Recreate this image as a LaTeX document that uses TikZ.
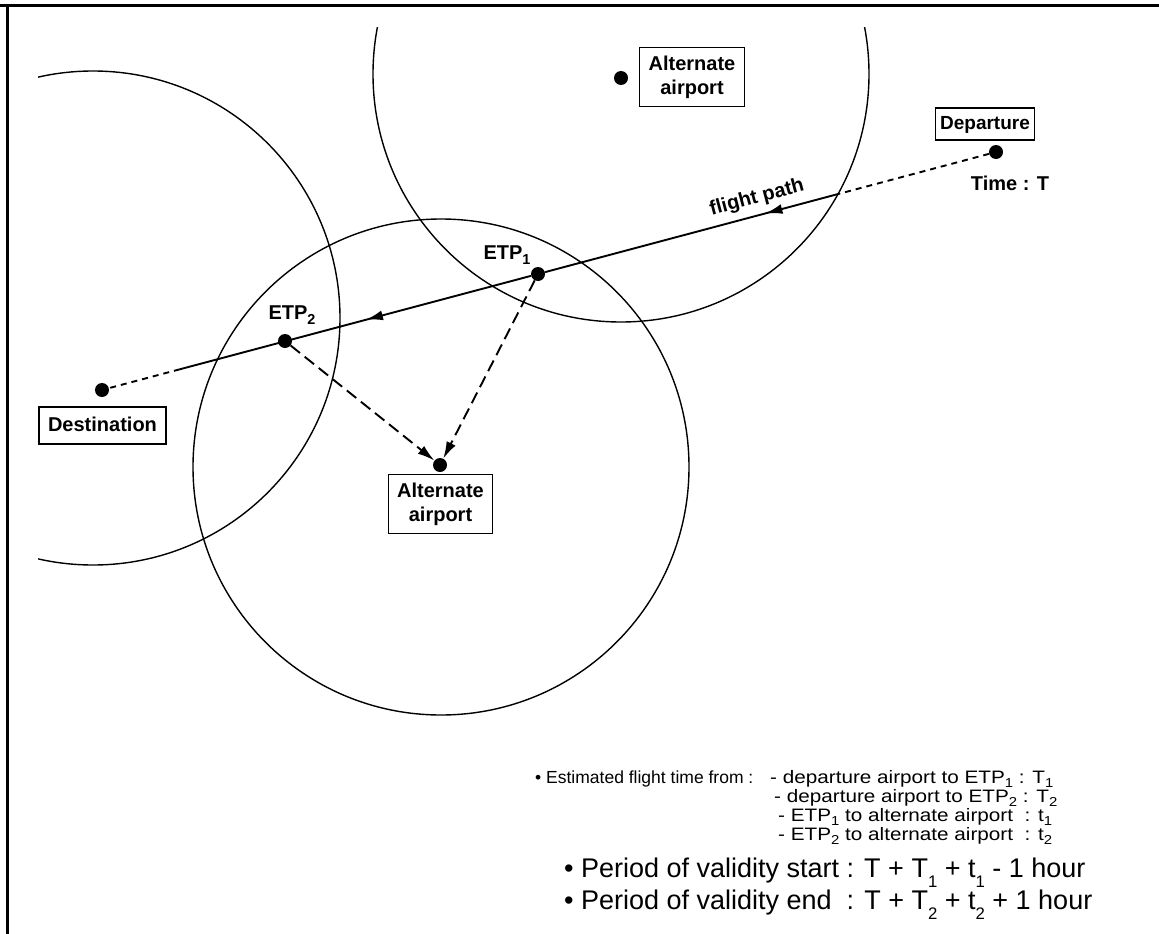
\documentclass[tikz,border=0pt]{standalone}
\usepackage{fontspec}
\setmainfont{Liberation Sans}
\usetikzlibrary{arrows.meta,decorations.markings,calc}
\newcommand{\lsub}[1]{\raisebox{-0.45ex}{\scalebox{0.72}{#1}}}
\newcommand{\bsub}[1]{\raisebox{-0.75ex}{\scalebox{0.62}{#1}}}
\newcommand{\wide}[1]{\scalebox{1.15}[1]{#1}}
\begin{document}
\begin{tikzpicture}[x=1pt,y=-1pt,
 dot/.style={circle,fill=black,inner sep=0pt,minimum size=14pt},
 lbl/.style={font=\fontsize{20}{24}\selectfont\bfseries, align=center, inner sep=0pt},
 box/.style={lbl,draw,line width=1.2pt,inner xsep=9pt,inner ysep=8pt},
 ring/.style={line width=1.4pt},
 fpath/.style={line width=1.9pt},
 tip/.style={-{Latex[length=17pt,width=10pt]}},
 midtip/.style={postaction={decorate},decoration={markings,mark=at position #1 with {\arrow{Latex[length=17pt,width=10pt]}}}},
 small/.style={font=\fontsize{18}{19}\selectfont, anchor=base west, inner sep=0pt},
 est/.style={font=\fontsize{17.5}{19}\selectfont, anchor=base west, inner sep=0pt},
 big/.style={font=\fontsize{27}{32}\selectfont, anchor=base west, inner sep=0pt}]
\useasboundingbox (0,0) rectangle (1159,934);
% frame
\draw[line width=3pt] (0,6) -- (1159,6);
\draw[line width=3pt] (7,4.5) -- (7,934);
% circles
\begin{scope}
\clip (38,28) rectangle (1159,934);
\draw[ring] (621,74) circle[radius=248];
\draw[ring] (93,318) circle[radius=247];
\draw[ring] (441,467) circle[radius=248];
\end{scope}
% dots
\node[dot] (altA) at (621,78) {};
\node[dot] (dep) at (996,152) {};
\node[dot] (etp1) at (538,274) {};
\node[dot] (etp2) at (285,341) {};
\node[dot] (dest) at (102,390) {};
\node[dot] (altB) at (440,465) {};
\coordinate (c1) at ($(dep)!0.18!(dest)$);
\coordinate (c2) at ($(dep)!0.913!(dest)$);
% labels
\node[box] (altAbox) at (692,77) {Alternate\\airport};
\node[box, font=\fontsize{19}{23}\selectfont\bfseries, text height=14pt, text depth=4pt, inner xsep=5pt, inner ysep=7pt] (depbox) at (985,124) {Departure};
\node[lbl] (time) at (1010,183) {Time : T};
\node[lbl] (etp1l) at (507,255) {ETP\lsub{1}};
\node[lbl] (etp2l) at (292,315) {ETP\lsub{2}};
\node[box, text height=15pt, text depth=4pt, inner ysep=9pt] (destbox) at (102.5,425.5) {Destination};
\node[box] (altBbox) at (440.5,504) {Alternate\\airport};
\node[lbl, rotate=14.9] (fpl) at (757,198) {flight path};
% flight path
\draw[fpath, dash pattern=on 6pt off 5pt] (dep) -- (c1);
\draw[fpath, midtip=0.24] (c1) -- (etp1);
\draw[fpath, midtip=0.47] (etp1) -- (c2);
\draw[fpath, dash pattern=on 6pt off 5pt] (c2) -- (dest);
% diversions
\draw[fpath, dash pattern=on 12pt off 6pt, tip] (etp1) -- (altB);
\draw[fpath, dash pattern=on 12pt off 6pt, tip] (etp2) -- (altB);
% text block
\node[est] (esttxt) at (535,783) {• Estimated flight time from :};
\node[small] (l1) at (770,783) {\wide{- departure airport to ETP\lsub{1} : T\lsub{1}}};
\node[small] (l2) at (774,802) {\wide{- departure airport to ETP\lsub{2} : T\lsub{2}}};
\node[small] (l3) at (778,821) {\wide{- ETP\lsub{1} to alternate airport~~: t\lsub{1}}};
\node[small] (l4) at (778,840) {\wide{- ETP\lsub{2} to alternate airport~~: t\lsub{2}}};
\node[big] (p1) at (564,877) {• Period of validity start : T + T\bsub{1} + t\bsub{1} - 1 hour};
\node[big] (p2) at (564,909) {• Period of validity end~~: T + T\bsub{2} + t\bsub{2} + 1 hour};
\end{tikzpicture}
\end{document}
